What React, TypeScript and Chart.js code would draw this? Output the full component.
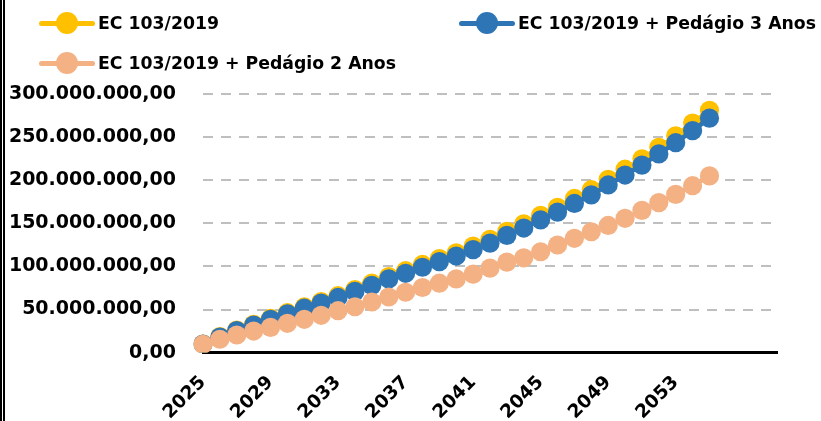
import React, { useEffect, useRef } from 'react';
import { Chart, registerables } from 'chart.js';

Chart.register(...registerables);

// Categories (blank entries at the end are empty category cells on the axis)
const categories = [
  '2025', '2026', '2027', '2028', '2029', '2030', '2031', '2032', '2033', '2034',
  '2035', '2036', '2037', '2038', '2039', '2040', '2041', '2042', '2043', '2044',
  '2045', '2046', '2047', '2048', '2049', '2050', '2051', '2052', '2053', '2054',
  '2055', '', '', '', '',
];

const ec103 = [
  10000000, 18500000, 26200000, 32900000, 39600000, 46300000, 53000000, 59200000,
  66000000, 73200000, 80500000, 88200000, 95000000, 102300000, 109000000, 115800000,
  123600000, 131400000, 140800000, 149500000, 159200000, 168600000, 178800000,
  189000000, 201000000, 212800000, 224800000, 238200000, 251500000, 266300000, 281000000,
];

const pedagio3 = [
  10000000, 18000000, 25500000, 32000000, 38500000, 45000000, 51500000, 57500000,
  64000000, 71000000, 78000000, 85500000, 92000000, 99000000, 105500000, 112000000,
  119500000, 127000000, 136000000, 144500000, 154000000, 163000000, 173000000,
  183000000, 194500000, 206000000, 217500000, 230500000, 243500000, 257500000, 272000000,
];

const pedagio2 = [
  9600000, 15500000, 20400000, 25000000, 29300000, 34000000, 38600000, 43300000,
  48600000, 53200000, 58700000, 64500000, 70000000, 75500000, 80500000, 85500000,
  91000000, 98000000, 105000000, 110000000, 117000000, 124800000, 132600000,
  140200000, 147500000, 155800000, 165000000, 174000000, 183600000, 193600000, 205000000,
];

const seriesNames = ['EC 103/2019', 'EC 103/2019 + Pedágio 3 Anos', 'EC 103/2019 + Pedágio 2 Anos'];
const yMin = 0;
const yMax = 300000000;
const yStep = 50000000;
const xLabelEvery = 4;

const YELLOW = '#FFC000';
const BLUE = '#2E75B6';
const ORANGE = '#F4B183';
const FONT = '"DejaVu Sans", sans-serif';

function fmtBR(v: number): string {
  const [i, d] = Math.abs(v).toFixed(2).split('.');
  return (v < 0 ? '-' : '') + i.replace(/\B(?=(\d{3})+(?!\d))/g, '.') + ',' + d;
}

function LegendItem({ x, y, color, text }: { x: number; y: number; color: string; text: string }) {
  return (
    <div style={{ position: 'absolute', left: x, top: y - 15, height: 30, display: 'flex', alignItems: 'center' }}>
      <div style={{ position: 'relative', width: 56, height: 30 }}>
        <div style={{ position: 'absolute', left: 0, top: 12.5, width: 56, height: 5, borderRadius: 2.5, background: color }} />
        <div style={{ position: 'absolute', left: 17, top: 4, width: 22, height: 22, borderRadius: 11, background: color }} />
      </div>
      <span style={{ marginLeft: 3, fontFamily: FONT, fontWeight: 'bold', fontSize: '17.3px', color: '#000', whiteSpace: 'nowrap' }}>{text}</span>
    </div>
  );
}

export default function App() {
  const ref = useRef<HTMLCanvasElement | null>(null);

  useEffect(() => {
    if (!ref.current) return;
    const mk = (label: string, data: number[], color: string, order: number) => ({
      label, data, borderColor: color, backgroundColor: color,
      pointBackgroundColor: color, pointBorderColor: color,
      borderWidth: 4.5, pointRadius: 9.6, pointBorderWidth: 0, order,
    });
    const chart = new Chart(ref.current, {
      type: 'line',
      data: {
        labels: categories,
        datasets: [
          mk(seriesNames[0], ec103, YELLOW, 3),
          mk(seriesNames[1], pedagio3, BLUE, 2),
          mk(seriesNames[2], pedagio2, ORANGE, 1),
        ],
      },
      options: {
        responsive: false,
        animation: false,
        layout: { padding: { left: 0, right: 44, top: 94, bottom: 0 } },
        plugins: { legend: { display: false }, tooltip: { enabled: false } },
        scales: {
          x: {
            type: 'category',
            offset: false,
            grid: { display: false, drawTicks: false },
            border: { display: true, color: '#000', width: 3 },
            ticks: {
              autoSkip: false,
              minRotation: 45,
              maxRotation: 45,
              padding: 19,
              color: '#000',
              font: { family: FONT, weight: 'bold', size: 18.5 },
              callback: (_v: any, i: number) => (i % xLabelEvery === 0 ? categories[i] : ''),
            },
            afterFit: (s: any) => { s.height = 421 - 352.6; },
          },
          y: {
            min: yMin,
            max: yMax,
            grid: { color: '#BFBFBF', lineWidth: 2, drawTicks: false },
            border: { display: false, dash: [10, 8] },
            ticks: {
              stepSize: yStep,
              padding: 27,
              color: '#000',
              font: { family: FONT, weight: 'bold', size: 19 },
              callback: (v: any) => fmtBR(Number(v)),
            },
            afterFit: (s: any) => { s.width = 203; },
          },
        },
      },
    });
    return () => chart.destroy();
  }, []);

  return (
    <div style={{ position: 'absolute', left: 0, top: 0, width: 821, height: 421, background: '#fff', overflow: 'hidden' }}>
      <canvas ref={ref} width={821} height={421} style={{ position: 'absolute', left: 0, top: 0 }} />
      <div style={{ position: 'absolute', left: 0, top: 0, width: 0, height: 421, borderLeft: '5px double #000' }} />
      <LegendItem x={39} y={23} color={YELLOW} text={seriesNames[0]} />
      <LegendItem x={459} y={23} color={BLUE} text={seriesNames[1]} />
      <LegendItem x={39} y={63} color={ORANGE} text={seriesNames[2]} />
    </div>
  );
}
